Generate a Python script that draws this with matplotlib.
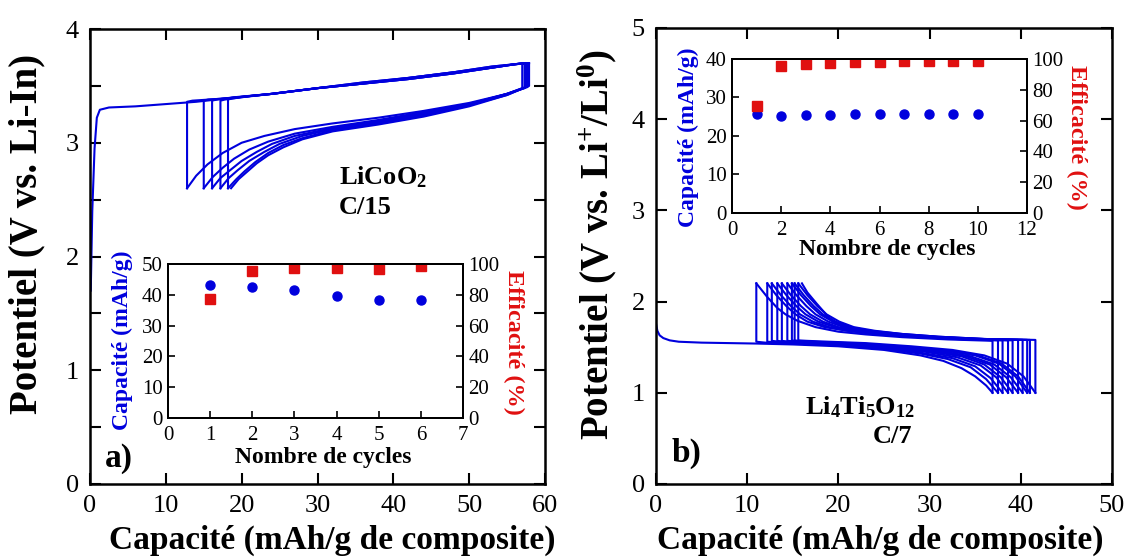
import matplotlib
matplotlib.use("Agg")
import matplotlib.pyplot as plt
from matplotlib.ticker import MultipleLocator

plt.rcParams["font.family"] = ["Liberation Serif", "DejaVu Serif"]
plt.rcParams["mathtext.fontset"] = "custom"
plt.rcParams["mathtext.rm"] = "Liberation Serif"
plt.rcParams["mathtext.bf"] = "Liberation Serif:bold"
plt.rcParams["mathtext.it"] = "Liberation Serif:italic"

BLUE = "#0000dd"
RED = "#e01010"

# ---- panel a) LiCoO2, C/15 : charge (left -> right) and discharge (right -> left)
a_charge_x = [
    [0.1, 0.3, 0.6, 0.9, 1.3, 2.5, 6, 10, 14, 18, 24, 30, 36, 42, 48, 53, 56, 57.0],
    [12.8, 12.8, 13.5, 18, 24, 30, 36, 42, 48, 53, 56, 57.3],
    [15.0, 15.0, 15.6, 18, 24, 30, 36, 42, 48, 53, 56, 57.5],
    [16.1, 16.1, 16.7, 19, 24, 30, 36, 42, 48, 53, 56, 57.7],
    [17.2, 17.2, 17.8, 20, 24, 30, 36, 42, 48, 53, 56, 57.8],
    [18.2, 18.2, 18.8, 21, 24, 30, 36, 42, 48, 53, 56, 57.9],
]
a_charge_v = [
    [1.70, 2.40, 2.95, 3.22, 3.29, 3.31, 3.32, 3.34, 3.36, 3.39, 3.43, 3.48, 3.52, 3.56, 3.61, 3.66, 3.69, 3.70],
    [2.60, 3.36, 3.37, 3.39, 3.43, 3.48, 3.52, 3.56, 3.61, 3.66, 3.69, 3.70],
    [2.60, 3.37, 3.38, 3.39, 3.43, 3.48, 3.52, 3.56, 3.61, 3.66, 3.69, 3.70],
    [2.60, 3.37, 3.38, 3.40, 3.43, 3.48, 3.52, 3.57, 3.62, 3.66, 3.69, 3.70],
    [2.60, 3.37, 3.38, 3.40, 3.43, 3.48, 3.53, 3.57, 3.62, 3.67, 3.69, 3.70],
    [2.60, 3.38, 3.39, 3.41, 3.43, 3.48, 3.53, 3.57, 3.62, 3.67, 3.69, 3.70],
]
a_dis_x = [
    [57.0, 57.0, 55, 50, 44, 38, 32, 27, 23, 20, 17.5, 15.5, 14, 12.8],
    [57.3, 57.3, 55, 50, 44, 38, 32, 27, 23.5, 21, 19, 17.5, 16.2, 15.0],
    [57.5, 57.5, 55, 50, 44, 38, 32, 27, 24, 22, 20, 18.5, 17.2, 16.1],
    [57.7, 57.7, 55, 50, 44, 38, 32, 28, 25, 23, 21, 19.5, 18.3, 17.2],
    [57.8, 57.8, 55, 50, 44, 38, 32, 28, 25.5, 23.5, 21.8, 20.4, 19.3, 18.2],
    [57.9, 57.9, 55, 50, 44, 38, 32, 28, 25.5, 23.5, 22, 20.8, 19.6, 18.6],
]
a_dis_v = [
    [3.70, 3.48, 3.43, 3.35, 3.28, 3.22, 3.17, 3.12, 3.06, 3.00, 2.91, 2.81, 2.71, 2.60],
    [3.70, 3.48, 3.43, 3.34, 3.27, 3.20, 3.14, 3.08, 3.01, 2.94, 2.86, 2.78, 2.70, 2.60],
    [3.70, 3.49, 3.43, 3.34, 3.26, 3.19, 3.13, 3.06, 2.99, 2.92, 2.84, 2.76, 2.69, 2.60],
    [3.70, 3.49, 3.43, 3.33, 3.25, 3.18, 3.12, 3.06, 2.99, 2.92, 2.84, 2.76, 2.69, 2.60],
    [3.70, 3.50, 3.42, 3.33, 3.24, 3.17, 3.11, 3.04, 2.98, 2.91, 2.83, 2.75, 2.68, 2.60],
    [3.70, 3.50, 3.42, 3.32, 3.23, 3.16, 3.10, 3.03, 2.96, 2.89, 2.82, 2.75, 2.68, 2.60],
]
a_cycles = [1, 2, 3, 4, 5, 6]
a_capacity = [43.2, 42.5, 41.5, 39.5, 38.2, 38.2]
a_efficiency = [77, 95.4, 97.6, 97.2, 97.0, 99.0]

# ---- panel b) Li4Ti5O12, C/7 : discharge (left -> right) and charge (right -> left)
b_dis_x = [
    [0, 0.15, 0.4, 0.8, 1.5, 2.5, 5, 8, 11, 15, 20, 25, 29, 31.5, 33.5, 35, 36.2, 36.9],
    [11.0, 11.0, 12, 15, 20, 25, 29, 32, 34.5, 36.2, 37.5],
    [12.2, 12.2, 13, 16, 20, 25, 29, 32.5, 35, 36.7, 38.0],
    [12.7, 12.7, 13.5, 16, 20, 25, 29.5, 33, 35.6, 37.3, 38.6],
    [13.3, 13.3, 14, 17, 21, 26, 30, 33.5, 36, 37.8, 39.1],
    [13.8, 13.8, 14.5, 17, 21, 26, 30.5, 34, 36.6, 38.4, 39.7],
    [14.4, 14.4, 15, 18, 22, 27, 31, 34.5, 37.1, 38.9, 40.2],
    [14.9, 14.9, 15.5, 18, 22, 27, 31.5, 35, 37.6, 39.4, 40.7],
    [15.2, 15.2, 16, 18.5, 22.5, 27.5, 32, 35.3, 37.9, 39.7, 41.0],
    [15.6, 15.6, 16.5, 19, 23, 28, 32.5, 36, 38.5, 40.3, 41.6],
]
b_dis_v = [
    [1.76, 1.68, 1.63, 1.60, 1.575, 1.56, 1.55, 1.545, 1.54, 1.53, 1.51, 1.47, 1.41, 1.35, 1.27, 1.18, 1.08, 1.00],
    [2.20, 1.56, 1.55, 1.54, 1.52, 1.48, 1.43, 1.37, 1.28, 1.15, 1.00],
    [2.20, 1.56, 1.555, 1.545, 1.525, 1.49, 1.44, 1.38, 1.29, 1.16, 1.00],
    [2.20, 1.57, 1.56, 1.55, 1.53, 1.495, 1.45, 1.39, 1.30, 1.17, 1.00],
    [2.20, 1.57, 1.56, 1.55, 1.53, 1.495, 1.455, 1.40, 1.31, 1.17, 1.00],
    [2.20, 1.57, 1.56, 1.55, 1.535, 1.50, 1.46, 1.40, 1.31, 1.17, 1.00],
    [2.20, 1.57, 1.565, 1.55, 1.535, 1.50, 1.46, 1.40, 1.31, 1.17, 1.00],
    [2.20, 1.575, 1.565, 1.555, 1.54, 1.505, 1.465, 1.41, 1.32, 1.18, 1.00],
    [2.20, 1.575, 1.565, 1.555, 1.54, 1.505, 1.465, 1.41, 1.32, 1.18, 1.00],
    [2.20, 1.575, 1.57, 1.56, 1.545, 1.51, 1.47, 1.41, 1.32, 1.18, 1.00],
]
b_charge_x = [
    [36.9, 36.9, 32, 27, 23, 20, 17.5, 15.5, 14.2, 13.3, 12.2, 11.0],
    [37.5, 37.5, 33, 28, 24, 21, 18.5, 16.6, 15.3, 14.3, 13.2, 12.2],
    [38.0, 38.0, 33, 28, 24, 21, 19, 17.2, 15.8, 14.8, 13.7, 12.7],
    [38.6, 38.6, 34, 29, 25, 22, 19.6, 17.8, 16.4, 15.4, 14.3, 13.3],
    [39.1, 39.1, 34, 29, 25, 22, 20, 18.3, 16.9, 15.9, 14.8, 13.8],
    [39.7, 39.7, 35, 30, 26, 23, 20.6, 18.9, 17.5, 16.5, 15.4, 14.4],
    [40.2, 40.2, 35, 30, 26, 23, 21, 19.4, 18.0, 17.0, 15.9, 14.9],
    [40.7, 40.7, 36, 31, 27, 23.5, 21.3, 19.7, 18.3, 17.3, 16.2, 15.2],
    [41.0, 41.0, 36, 31, 27, 24, 21.7, 20.1, 18.7, 17.7, 16.6, 15.6],
    [41.6, 41.6, 36, 31, 27, 24, 22, 20.2, 19, 17.6, 16.6, 16.0],
]
b_charge_v = [
    [1.00, 1.57, 1.585, 1.61, 1.64, 1.67, 1.72, 1.79, 1.86, 1.93, 2.05, 2.20],
    [1.00, 1.575, 1.59, 1.615, 1.645, 1.68, 1.72, 1.78, 1.86, 1.95, 2.07, 2.20],
    [1.00, 1.575, 1.59, 1.615, 1.645, 1.68, 1.72, 1.78, 1.86, 1.95, 2.07, 2.20],
    [1.00, 1.575, 1.59, 1.615, 1.645, 1.68, 1.72, 1.78, 1.86, 1.95, 2.07, 2.20],
    [1.00, 1.575, 1.59, 1.615, 1.645, 1.68, 1.72, 1.78, 1.86, 1.95, 2.07, 2.20],
    [1.00, 1.58, 1.59, 1.615, 1.645, 1.68, 1.72, 1.78, 1.86, 1.95, 2.07, 2.20],
    [1.00, 1.58, 1.59, 1.615, 1.645, 1.68, 1.72, 1.78, 1.86, 1.95, 2.07, 2.20],
    [1.00, 1.58, 1.59, 1.615, 1.645, 1.68, 1.72, 1.78, 1.86, 1.95, 2.07, 2.20],
    [1.00, 1.58, 1.59, 1.615, 1.645, 1.68, 1.72, 1.78, 1.86, 1.95, 2.07, 2.20],
    [1.00, 1.58, 1.59, 1.61, 1.64, 1.67, 1.70, 1.74, 1.82, 1.98, 2.10, 2.20],
]
b_cycles = [1, 2, 3, 4, 5, 6, 7, 8, 9, 10]
b_capacity = [25.7, 25.3, 25.5, 25.5, 25.7, 25.7, 25.7, 25.7, 25.7, 25.7]
b_efficiency = [69.3, 95.7, 96.8, 97.2, 97.8, 97.8, 98.7, 98.7, 98.7, 98.7]

W, H = 1131, 559


def rect(x0, y0, x1, y1):
    # pixel box (top-left origin) -> figure fraction
    return [x0 / W, 1 - y1 / H, (x1 - x0) / W, (y1 - y0) / H]


def ftext(x, y, s, **kw):
    fig.text(x / W, 1 - y / H, s, ha="center", va="center", **kw)


def style_main(ax):
    for sp in ax.spines.values():
        sp.set_linewidth(1.8)
    ax.tick_params(which="both", direction="in", top=True, right=True,
                   length=8, width=1.5, labelsize=19, pad=8)


def make_inset(ax, cycles, cap, eff, xmax, xstep, capmax):
    ax.set_zorder(5)
    ax.plot(cycles, cap, "o", color=BLUE, ms=6.5, mec=BLUE)
    ax.set_xlim(0, xmax)
    ax.set_ylim(0, capmax)
    ax.xaxis.set_major_locator(MultipleLocator(xstep))
    ax.yaxis.set_major_locator(MultipleLocator(10))
    ax.tick_params(direction="in", length=5, width=1.2, labelsize=15, pad=4)
    ax.tick_params(axis="x", pad=6)
    for sp in ax.spines.values():
        sp.set_linewidth(1.4)
    tw = ax.twinx()
    tw.plot(cycles, eff, "s", color=RED, ms=6.5, mec=RED)
    tw.set_ylim(0, 100)
    tw.yaxis.set_major_locator(MultipleLocator(20))
    tw.tick_params(direction="in", length=5, width=1.2, labelsize=15, pad=4)
    for sp in tw.spines.values():
        sp.set_linewidth(1.4)
    return tw


fig = plt.figure(figsize=(W / 100, H / 100), dpi=100)

# ---------------- panel a
ax1 = fig.add_axes(rect(90, 29, 545, 484))
for xs, vs in zip(a_charge_x, a_charge_v):
    ax1.plot(xs, vs, color=BLUE, lw=1.5)
for xs, vs in zip(a_dis_x, a_dis_v):
    ax1.plot(xs, vs, color=BLUE, lw=1.5)
ax1.set_xlim(0, 60)
ax1.set_ylim(0, 4)
ax1.xaxis.set_major_locator(MultipleLocator(10))
ax1.yaxis.set_major_locator(MultipleLocator(1))
ax1.yaxis.set_minor_locator(MultipleLocator(0.5))
style_main(ax1)
ax1.text(32.8, 2.70, r"LiCoO$_\mathbf{2}$", fontsize=19, fontweight="bold", va="center")
ax1.text(32.8, 2.43, "C/15", fontsize=19, fontweight="bold", va="center")
ax1.text(1.9, 0.22, "a)", fontsize=24, fontweight="bold", va="center")

ins1 = fig.add_axes(rect(168, 264, 463, 418))
make_inset(ins1, a_cycles, a_capacity, a_efficiency, 7, 1, 50)

# ---------------- panel b
ax2 = fig.add_axes(rect(656, 28, 1112, 484))
for xs, vs in zip(b_dis_x, b_dis_v):
    ax2.plot(xs, vs, color=BLUE, lw=1.5)
for xs, vs in zip(b_charge_x, b_charge_v):
    ax2.plot(xs, vs, color=BLUE, lw=1.5)
ax2.set_xlim(0, 50)
ax2.set_ylim(0, 5)
ax2.xaxis.set_major_locator(MultipleLocator(10))
ax2.yaxis.set_major_locator(MultipleLocator(1))
style_main(ax2)
ax2.text(16.3, 0.84, r"Li$_\mathbf{4}$Ti$_\mathbf{5}$O$_\mathbf{12}$", fontsize=19,
         fontweight="bold", va="center")
ax2.text(28.1, 0.52, "C/7", fontsize=19, fontweight="bold", va="center", ha="right")
ax2.text(1.7, 0.34, "b)", fontsize=24, fontweight="bold", va="center")

ins2 = fig.add_axes(rect(732, 59, 1027, 213))
make_inset(ins2, b_cycles, b_capacity, b_efficiency, 12, 2, 40)

# ---------------- axis titles
ftext(27, 234, "Potentiel (V vs. Li-In)", fontsize=28, fontweight="bold", rotation=90)
ftext(597, 245, r"Potentiel (V vs. Li$^\mathbf{+}$/Li$^\mathbf{0}$)", fontsize=28,
      fontweight="bold", rotation=90)
ftext(332, 540, "Capacité (mAh/g de composite)", fontsize=24, fontweight="bold")
ftext(880, 540, "Capacité (mAh/g de composite)", fontsize=24, fontweight="bold")

ftext(122, 340, "Capacité (mAh/g)", fontsize=17, fontweight="bold", rotation=90, color=BLUE)
ftext(514, 342, "Efficacité (%)", fontsize=17.5, fontweight="bold", rotation=270, color=RED)
ftext(323, 457, "Nombre de cycles", fontsize=17, fontweight="bold")

ftext(688, 137, "Capacité (mAh/g)", fontsize=17, fontweight="bold", rotation=90, color=BLUE)
ftext(1077, 137, "Efficacité (%)", fontsize=17.5, fontweight="bold", rotation=270, color=RED)
ftext(887, 250, "Nombre de cycles", fontsize=17, fontweight="bold")

fig.savefig("out.png", dpi=100)
